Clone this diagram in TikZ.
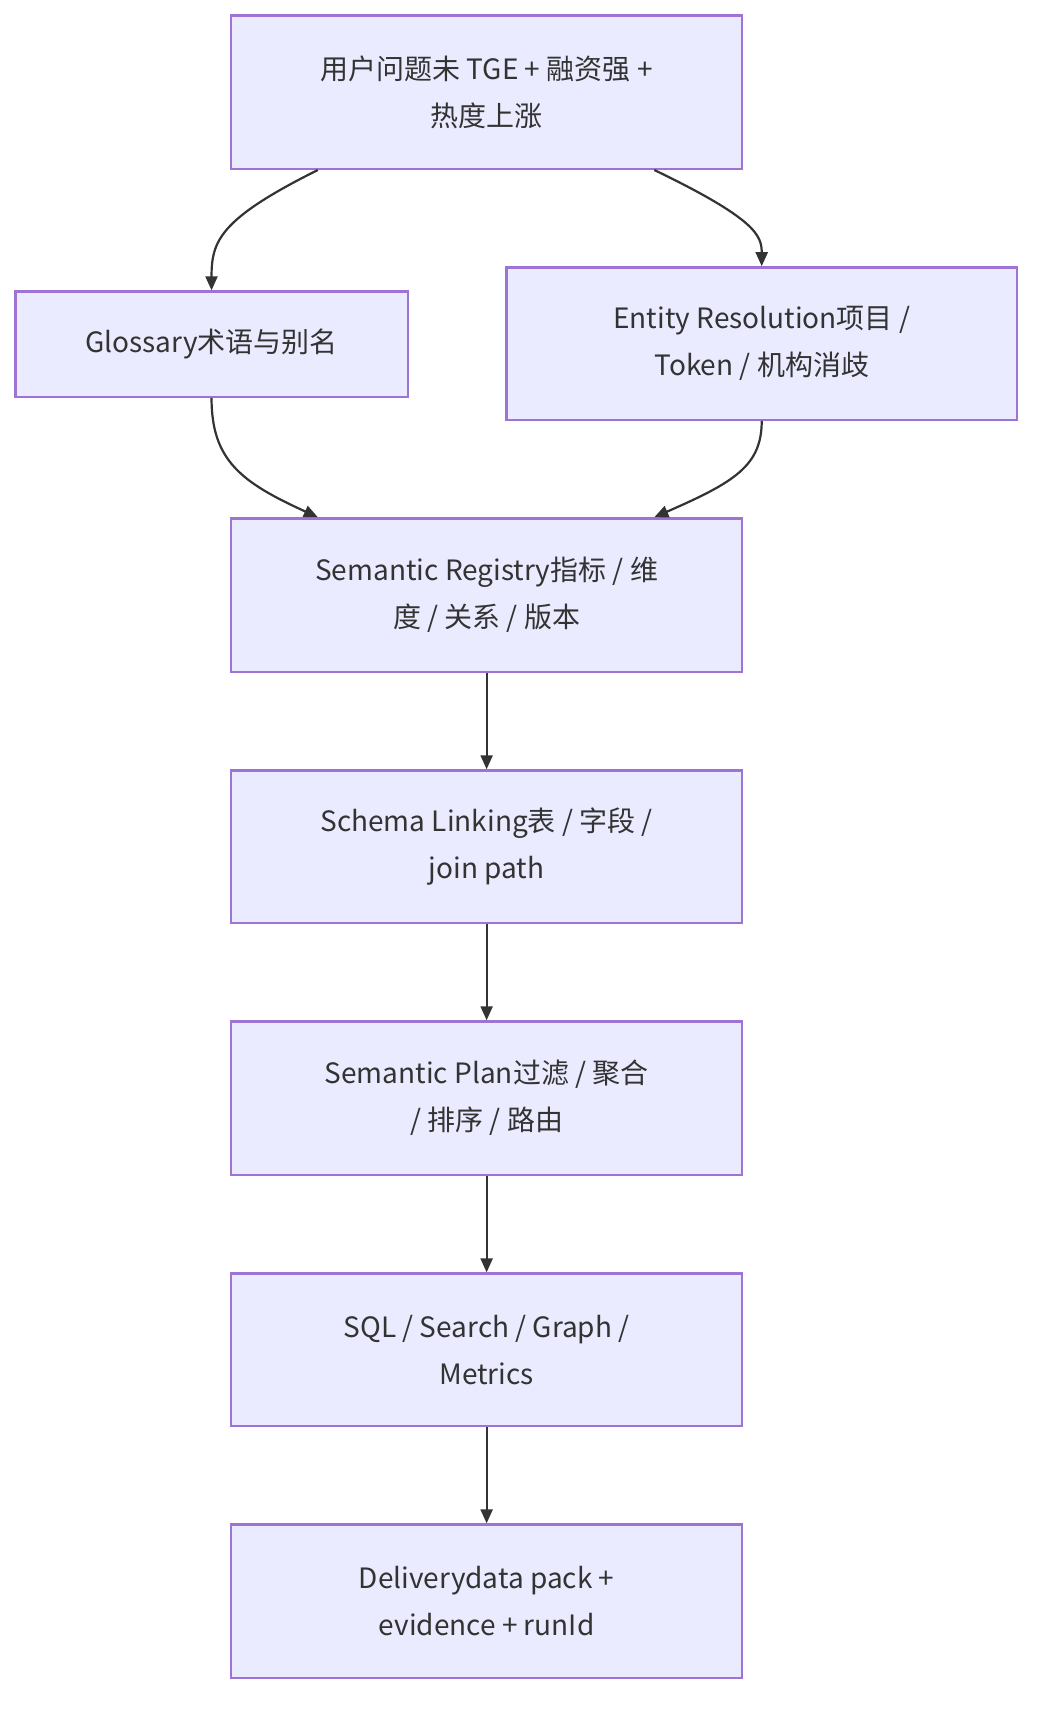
\documentclass[tikz,border=0pt]{standalone}
\usepackage{fontspec}
\setmainfont{Noto Sans CJK SC}
\usetikzlibrary{arrows.meta}
\begin{document}
\begin{tikzpicture}[x=0.548pt,y=-0.548pt,
  box/.style={draw=violet!60!blue!55, fill=blue!8, line width=1.2pt, align=center, font=\fontsize{14}{23.5}\selectfont, text=black!80, inner sep=0pt},
  arr/.style={-{Triangle[length=7pt,width=6pt]}, draw=black!80, line width=1.1pt}]
\useasboundingbox (0,0) rectangle (960,1573);
\node[box, minimum width=466*0.548pt, minimum height=140*0.548pt] (a) at (444,84) {用户问题未 TGE + 融资强 +\\热度上涨};
\node[box, minimum width=358*0.548pt, minimum height=96*0.548pt] (g) at (193,314) {Glossary术语与别名};
\node[box, minimum width=466*0.548pt, minimum height=139*0.548pt] (e) at (695,313.5) {Entity Resolution项目 /\\Token / 机构消歧};
\node[box, minimum width=466*0.548pt, minimum height=140*0.548pt] (r) at (444,543) {Semantic Registry指标 / 维\\度 / 关系 / 版本};
\node[box, minimum width=466*0.548pt, minimum height=139*0.548pt] (s) at (444,772.5) {Schema Linking表 / 字段 /\\join path};
\node[box, minimum width=466*0.548pt, minimum height=140*0.548pt] (p) at (444,1002) {Semantic Plan过滤 / 聚合\\/ 排序 / 路由};
\node[box, minimum width=466*0.548pt, minimum height=139*0.548pt] (q) at (444,1231.5) {SQL / Search / Graph /\\Metrics};
\node[box, minimum width=466*0.548pt, minimum height=140*0.548pt] (d) at (444,1461) {Deliverydata pack +\\evidence + runId};
\draw[arr] ([xshift=-154*0.548pt]a.south) .. controls (200,200) and (193,220) .. (g.north);
\draw[arr] ([xshift=153*0.548pt]a.south) .. controls (690,200) and (695,215) .. (e.north);
\draw[arr] (g.south) .. controls (193,420) and (220,440) .. ([xshift=-154*0.548pt]r.north);
\draw[arr] (e.south) .. controls (695,425) and (670,440) .. ([xshift=153*0.548pt]r.north);
\draw[arr] (r) -- (s);
\draw[arr] (s) -- (p);
\draw[arr] (p) -- (q);
\draw[arr] (q) -- (d);
\end{tikzpicture}
\end{document}
